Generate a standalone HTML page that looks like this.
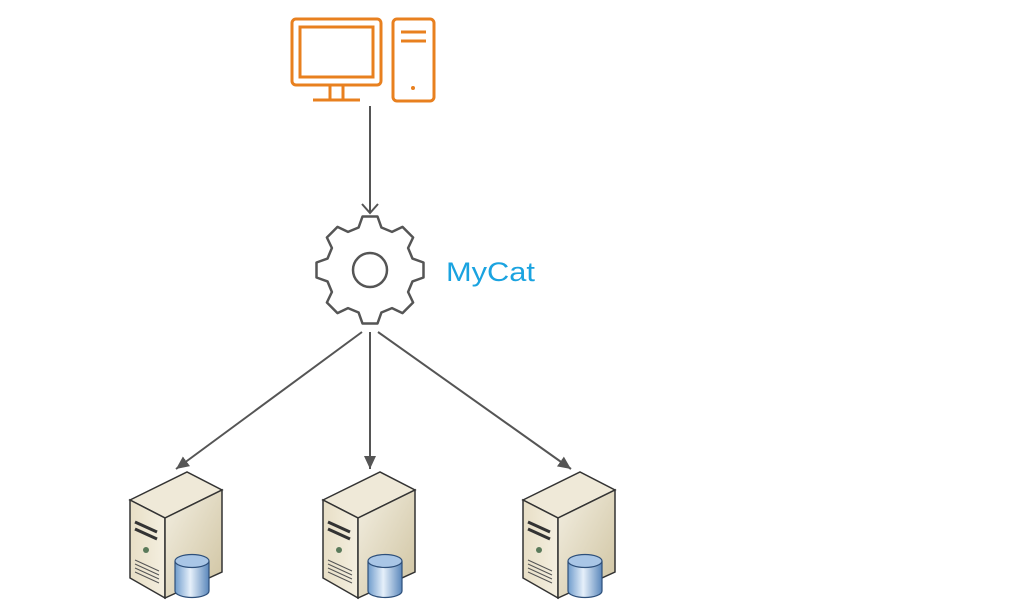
<!DOCTYPE html>
<html><head><meta charset="utf-8"><style>body{margin:0;background:#fff}svg{display:block}</style></head>
<body>
<svg id="s" width="1018" height="606" viewBox="0 0 1018 606" xmlns="http://www.w3.org/2000/svg">
<defs>
<linearGradient id="front" x1="0" y1="0" x2="1" y2="0"><stop offset="0" stop-color="#e8dfc6"/><stop offset="1" stop-color="#f4efe0"/></linearGradient>
<linearGradient id="side" x1="0" y1="0" x2="1" y2="1"><stop offset="0" stop-color="#f3efe2"/><stop offset="1" stop-color="#cfc3a0"/></linearGradient>
<linearGradient id="cyl" x1="0" y1="0" x2="1" y2="0"><stop offset="0" stop-color="#6f9ccc"/><stop offset=".45" stop-color="#e6f0fa"/><stop offset="1" stop-color="#5a87bb"/></linearGradient>
<marker id="ah" markerWidth="14" markerHeight="14" refX="13" refY="6" orient="auto" markerUnits="userSpaceOnUse"><path d="M0,0 L13,6 L0,12 z" fill="#555"/></marker>
<g id="srv">
<polygon points="0,28 57,0 92,18 35,46" fill="#efe9d8" stroke="#333" stroke-width="1.5"/>
<polygon points="0,28 35,46 35,126 0,106" fill="url(#front)" stroke="#333" stroke-width="1.5"/>
<polygon points="35,46 92,18 92,100 35,126" fill="url(#side)" stroke="#333" stroke-width="1.5"/>
<path d="M5,50 l22,10 M5,57 l22,10" stroke="#333" stroke-width="3"/>
<circle cx="16" cy="78" r="3" fill="#5a7a5a"/>
<path d="M5,88 l24,11 M5,92 l24,11 M5,96 l24,11 M5,100 l24,11" stroke="#555" stroke-width="1"/>
<path d="M45,89 v30 a17,6.5 0 0 0 34,0 v-30" fill="url(#cyl)" stroke="#2d4f7a" stroke-width="1.2"/>
<ellipse cx="62" cy="89" rx="17" ry="6.5" fill="#a9c6e6" stroke="#2d4f7a" stroke-width="1.2"/>
</g>
</defs>
<g fill="none" stroke="#e8801f" stroke-width="3">
<rect x="292" y="19" width="89" height="66" rx="4"/>
<rect x="300" y="27" width="73" height="50"/>
<path d="M330,86 v14 M343,86 v14 M313,100 h47"/>
<rect x="393" y="19" width="41" height="82" rx="4"/>
<path d="M401,32 h25 M401,41 h25"/>
</g>
<circle cx="413" cy="88" r="2" fill="#e8801f"/>
<g stroke="#555" stroke-width="2" fill="none">
<path d="M370,106 V212"/>
<path d="M362,204 l8,9 l8,-9"/>
<line x1="362" y1="332" x2="176" y2="469" marker-end="url(#ah)"/>
<line x1="370" y1="332" x2="370" y2="469" marker-end="url(#ah)"/>
<line x1="378" y1="332" x2="571" y2="469" marker-end="url(#ah)"/>
</g>
<polygon id="gear" fill="#fff" stroke="#555" stroke-width="2.5" stroke-linejoin="round" points=""/>
<circle cx="370" cy="270" r="17" fill="none" stroke="#555" stroke-width="2.5"/>
<text x="446" y="281" font-family="Liberation Sans, sans-serif" font-size="27" fill="#1aa3e0" textLength="89" lengthAdjust="spacingAndGlyphs">MyCat</text>
<use href="#srv" x="130" y="472"/>
<use href="#srv" x="323" y="472"/>
<use href="#srv" x="523" y="472"/>
</svg>
<script>
var p=[],cx=370,cy=270;
function pt(a,r){a=a*Math.PI/180;p.push((cx+r*Math.sin(a)).toFixed(1)+","+(cy-r*Math.cos(a)).toFixed(1));}
for(var i=0;i<8;i++){var b=i*45;pt(b-15,44);pt(b-8,54);pt(b+8,54);pt(b+15,44);}
document.getElementById("gear").setAttribute("points",p.join(" "));
</script>
</body></html>
